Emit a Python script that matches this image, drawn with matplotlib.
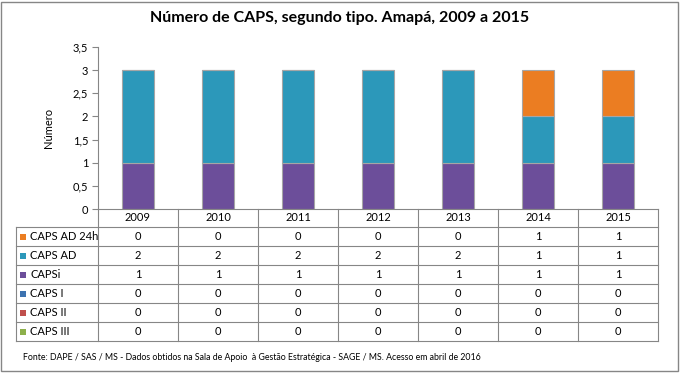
import matplotlib
matplotlib.use("Agg")
import matplotlib.pyplot as plt
from matplotlib.patches import Rectangle
from matplotlib.lines import Line2D

plt.rcParams['font.family'] = ['Lato', 'DejaVu Sans']

years = ['2009', '2010', '2011', '2012', '2013', '2014', '2015']
series_names = ['CAPS AD 24h', 'CAPS AD', 'CAPSi', 'CAPS I', 'CAPS II', 'CAPS III']
caps_ad24h = [0, 0, 0, 0, 0, 1, 1]
caps_ad = [2, 2, 2, 2, 2, 1, 1]
capsi = [1, 1, 1, 1, 1, 1, 1]
caps_i = [0, 0, 0, 0, 0, 0, 0]
caps_ii = [0, 0, 0, 0, 0, 0, 0]
caps_iii = [0, 0, 0, 0, 0, 0, 0]
series_values = [caps_ad24h, caps_ad, capsi, caps_i, caps_ii, caps_iii]
colors = ['#EB7D22', '#2C98BA', '#6C4E9A', '#3D73B0', '#C0504D', '#8DB04B']
yticks = [0, 0.5, 1, 1.5, 2, 2.5, 3, 3.5]

W, H = 680, 373
fig = plt.figure(figsize=(W/100, H/100), dpi=100)

def fx(px):
    return px / W

def fy(py):
    return 1 - py / H

x0, x1 = 98, 658
ytop, ybot = 47, 209
ax = fig.add_axes([fx(x0), fy(ybot), fx(x1 - x0), (ybot - ytop) / H])
ax.set_xlim(-0.5, len(years) - 0.5)
ax.set_ylim(0, 3.5)

# stack from bottom: CAPS III, CAPS II, CAPS I, CAPSi, CAPS AD, CAPS AD 24h
bottom = [0] * len(years)
for name, vals, col in reversed(list(zip(series_names, series_values, colors))):
    ax.bar(range(len(years)), vals, bottom=bottom, width=0.39, color=col,
           edgecolor='#A6A6A6', linewidth=0.8)
    bottom = [b + v for b, v in zip(bottom, vals)]

ax.set_yticks(yticks)
ax.set_yticklabels([f"{t:g}".replace('.', ',') for t in yticks], fontsize=8)
ax.set_xticks([])
for s in ['top', 'right', 'bottom']:
    ax.spines[s].set_visible(False)
ax.spines['left'].set_color('#868686')
ax.tick_params(axis='y', length=4, color='#868686', pad=3)
ax.set_ylabel('Número', fontsize=8)
ax.yaxis.set_label_coords(-0.078, 0.5)

# Table
line_col = '#868686'
hdr_bot = 227
row_h = 19
n_rows = len(series_names)
tbl_bot = hdr_bot + n_rows * row_h
left_x = 16
col_w = (x1 - x0) / len(years)

def hline(xa, xb, y):
    fig.add_artist(Line2D([fx(xa), fx(xb)], [fy(y), fy(y)], color=line_col, lw=0.8))

def vline(x, ya, yb):
    fig.add_artist(Line2D([fx(x), fx(x)], [fy(ya), fy(yb)], color=line_col, lw=0.8))

hline(x0, x1, ybot)
for i in range(n_rows + 1):
    hline(left_x, x1, hdr_bot + i * row_h)
for j in range(len(years) + 1):
    vline(x0 + j * col_w, ybot, tbl_bot)
vline(left_x, hdr_bot, tbl_bot)

for j, yr in enumerate(years):
    fig.text(fx(x0 + (j + 0.5) * col_w), fy((ybot + hdr_bot) / 2), yr,
             ha='center', va='center', fontsize=8)

for i, (name, vals, col) in enumerate(zip(series_names, series_values, colors)):
    yc = hdr_bot + (i + 0.5) * row_h
    fig.add_artist(Rectangle((fx(20), fy(yc + 3)), fx(6), 6 / H, facecolor=col,
                             edgecolor='none'))
    fig.text(fx(30), fy(yc), name, ha='left', va='center', fontsize=8)
    for j, v in enumerate(vals):
        fig.text(fx(x0 + (j + 0.5) * col_w), fy(yc), str(v), ha='center',
                 va='center', fontsize=8)

fig.text(0.5, fy(18), 'Número de CAPS, segundo tipo. Amapá, 2009 a 2015',
         ha='center', va='center', fontsize=11.5, fontweight='bold')
fig.text(fx(23), fy(358), 'Fonte: DAPE / SAS / MS - Dados obtidos na Sala de Apoio  à Gestão Estratégica - SAGE / MS. Acesso em abril de 2016',
         ha='left', va='center', fontsize=6.3)

fig.add_artist(Rectangle((fx(1), fy(371)), fx(677), 369 / H, facecolor='none',
                         edgecolor='#868686', lw=1))

fig.savefig('out.png', dpi=100)
